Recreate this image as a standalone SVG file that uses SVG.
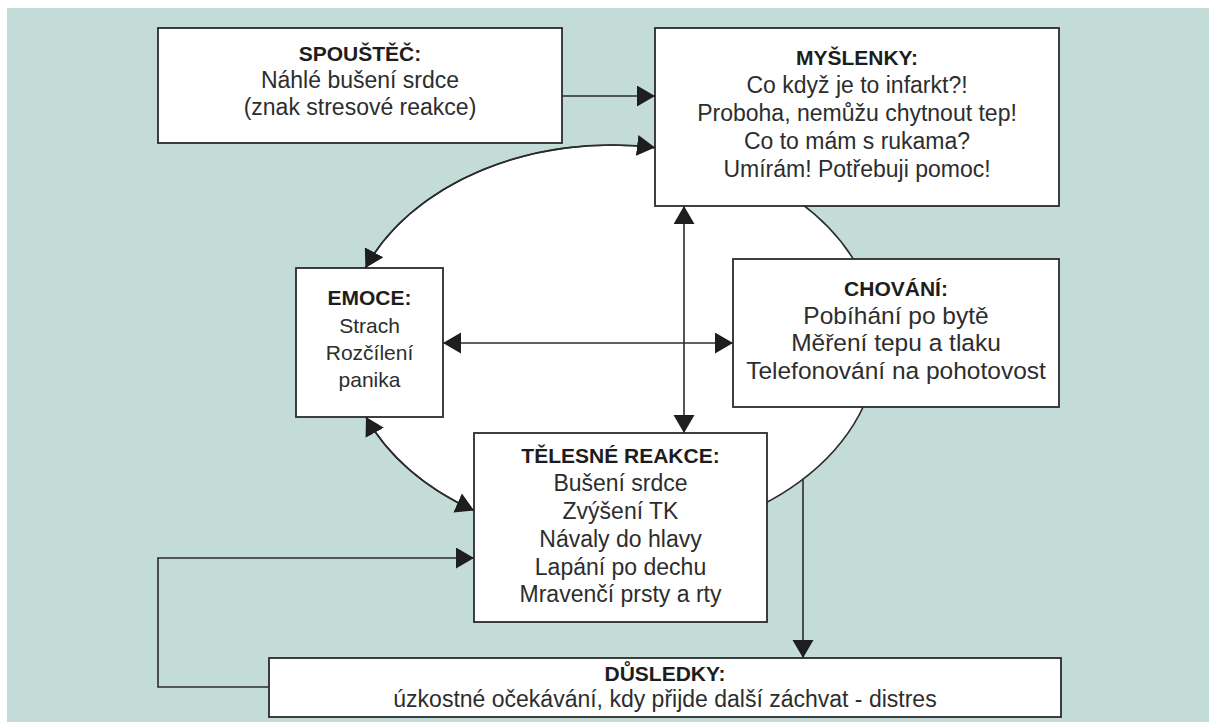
<svg xmlns="http://www.w3.org/2000/svg" width="1209" height="722" viewBox="0 0 1209 722">
<defs>
<marker id="ah" markerUnits="userSpaceOnUse" markerWidth="20" markerHeight="22" refX="18" refY="10.5" orient="auto-start-reverse" viewBox="0 0 20 22"><path d="M0,0 L18,10.5 L0,21 z" fill="#1e1e1e"/></marker>
<style>
.box{fill:#fff;stroke:#2b2b2b;stroke-width:1.8}
.t{font-family:"Liberation Sans",Arial,sans-serif;font-size:23px;fill:#2d2d2d;text-anchor:middle}
.b{font-weight:bold;font-size:21px;fill:#1d1d1d}
.s{font-size:21px}
.l{font-size:24.5px}
.c{fill:none;stroke:#2b2b2b;stroke-width:1.6}
</style>
</defs>
<rect x="7" y="8" width="1202" height="714" fill="#c4dcd8"/>
<g id="cycle"><ellipse cx="612" cy="342" rx="266" ry="197" fill="#fff" stroke="#2b2b2b" stroke-width="1.6"/></g>
<g id="spoustec">
<rect class="box" x="158" y="28" width="404" height="115"/>
<text class="t b" x="360" y="61">SPOUŠTĚČ:</text>
<text class="t" x="360" y="88" font-size="22.5">Náhlé bušení srdce</text>
<text class="t" x="360" y="115" font-size="22.5">(znak stresové reakce)</text>
</g>
<g id="myslenky">
<rect class="box" x="655" y="28" width="404" height="178"/>
<text class="t b" x="857" y="65">MYŠLENKY:</text>
<text class="t" x="857" y="93">Co když je to infarkt?!</text>
<text class="t" x="857" y="121">Proboha, nemůžu chytnout tep!</text>
<text class="t" x="857" y="149">Co to mám s rukama?</text>
<text class="t" x="857" y="177">Umírám! Potřebuji pomoc!</text>
</g>
<g id="emoce">
<rect class="box" x="296" y="268" width="147" height="149"/>
<text class="t b" x="369.5" y="305">EMOCE:</text>
<text class="t s" x="369.5" y="333">Strach</text>
<text class="t s" x="369.5" y="360">Rozčílení</text>
<text class="t s" x="369.5" y="387">panika</text>
</g>
<g id="chovani">
<rect class="box" x="733" y="259" width="326" height="148"/>
<text class="t b" x="896" y="296" font-size="24">CHOVÁNÍ:</text>
<text class="t l" x="896" y="323.7">Pobíhání po bytě</text>
<text class="t l" x="896" y="351.4">Měření tepu a tlaku</text>
<text class="t l" x="896" y="379">Telefonování na pohotovost</text>
</g>
<g id="telesne">
<rect class="box" x="474" y="433" width="293" height="189"/>
<text class="t b" x="620.5" y="463">TĚLESNÉ REAKCE:</text>
<text class="t" x="620.5" y="491">Bušení srdce</text>
<text class="t" x="620.5" y="519">Zvýšení TK</text>
<text class="t" x="620.5" y="547">Návaly do hlavy</text>
<text class="t" x="620.5" y="575">Lapání po dechu</text>
<text class="t" x="620.5" y="602">Mravenčí prsty a rty</text>
</g>
<g id="dusledky">
<rect class="box" x="269" y="658" width="792" height="59"/>
<text class="t b" x="665" y="681">DŮSLEDKY:</text>
<text class="t" x="665" y="707">úzkostné očekávání, kdy přijde další záchvat - distres</text>
</g>
<g id="connectors">
<path class="c" d="M562 96 H655" marker-end="url(#ah)"/>
<path class="c" d="M365.4 268 A266 197 0 0 1 655 147.6" marker-start="url(#ah)" marker-end="url(#ah)"/>
<path class="c" d="M366 417 A266 197 0 0 0 474 510.4" marker-start="url(#ah)" marker-end="url(#ah)"/>
<path class="c" d="M684 206 V433" marker-start="url(#ah)" marker-end="url(#ah)"/>
<path class="c" d="M443 343 H733" marker-start="url(#ah)" marker-end="url(#ah)"/>
<path class="c" d="M803 479 V658" marker-end="url(#ah)"/>
<path class="c" d="M269 687 H158 V558 H474" marker-end="url(#ah)"/>
</g>
</svg>
